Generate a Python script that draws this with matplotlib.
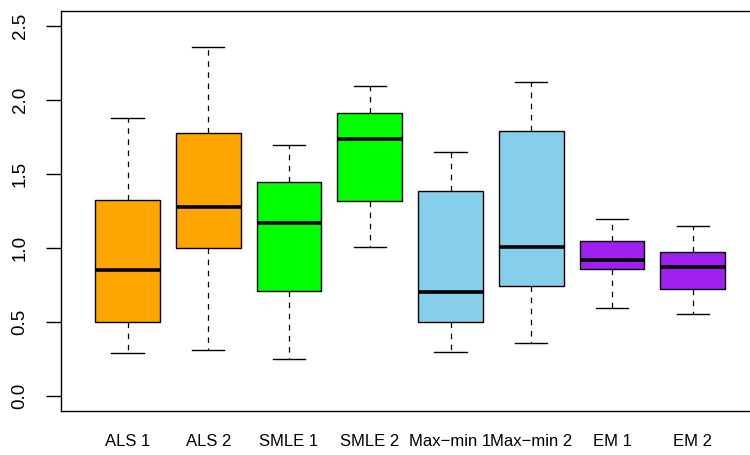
import matplotlib
matplotlib.use("Agg")
import matplotlib.pyplot as plt

plt.rcParams['font.family'] = ['Liberation Sans', 'DejaVu Sans']
plt.rcParams['lines.scale_dashes'] = False

labels = ["ALS 1", "ALS 2", "SMLE 1", "SMLE 2", "Max\u2212min 1", "Max\u2212min 2", "EM 1", "EM 2"]
whislo = [0.293, 0.313, 0.248, 1.009, 0.297, 0.358, 0.592, 0.552]
q1     = [0.498, 1.000, 0.709, 1.315, 0.498, 0.743, 0.858, 0.725]
med    = [0.853, 1.277, 1.169, 1.736, 0.703, 1.007, 0.919, 0.870]
q3     = [1.327, 1.777, 1.448, 1.914, 1.387, 1.791, 1.049, 0.971]
whishi = [1.876, 2.358, 1.693, 2.095, 1.651, 2.124, 1.198, 1.149]
colors = ["#FFA500", "#FFA500", "#00FF00", "#00FF00", "#87CEEB", "#87CEEB", "#A020F0", "#A020F0"]
yticks = [0.0, 0.5, 1.0, 1.5, 2.0, 2.5]

stats = []
for i in range(len(labels)):
    stats.append(dict(label=labels[i], whislo=whislo[i], q1=q1[i], med=med[i],
                      q3=q3[i], whishi=whishi[i], fliers=[]))

fig = plt.figure(figsize=(7.5, 4.55), dpi=100)
ax = fig.add_axes([61.3/750, 44.3/455, (759-61.3)/750, (410.7-11.3)/455])

bp = ax.bxp(stats, positions=range(1, len(labels)+1), widths=0.8, patch_artist=True,
            showfliers=False,
            boxprops=dict(linewidth=1.0, edgecolor='black'),
            medianprops=dict(color='black', linewidth=2.6, solid_capstyle='butt'),
            whiskerprops=dict(color='black', linewidth=0.9, linestyle=(0, (4, 4))),
            capprops=dict(color='black', linewidth=1.0),
            capwidths=0.4)
for patch, c in zip(bp['boxes'], colors):
    patch.set_facecolor(c)

ax.set_xlim(0.18, 8.82)
ax.set_ylim(-0.1, 2.6)
ax.set_yticks(yticks)
ax.set_yticklabels([f"{v:.1f}" for v in yticks], rotation=90, va='center', fontsize=13.5)
ax.tick_params(axis='y', length=10.5, width=1.0, pad=13)
ax.tick_params(axis='x', length=0, pad=17, labelsize=12)
for s in ax.spines.values():
    s.set_linewidth(1.0)

fig.savefig("out.png", dpi=100)
